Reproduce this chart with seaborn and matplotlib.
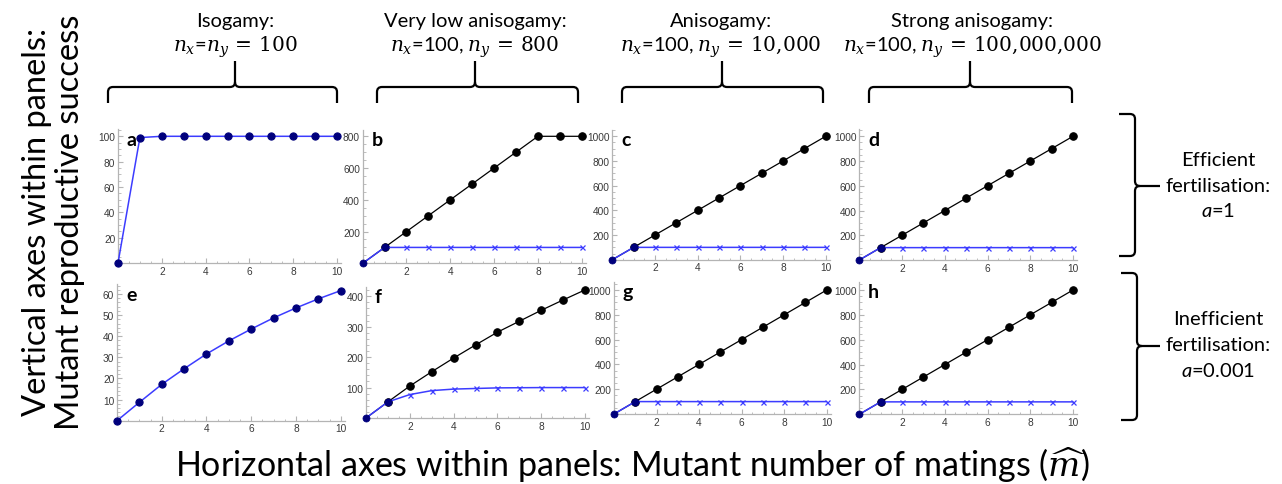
import matplotlib
matplotlib.use("Agg")
import matplotlib.pyplot as plt
import seaborn as sns
import pandas as pd
from matplotlib.path import Path
from matplotlib.patches import PathPatch
from matplotlib.ticker import MultipleLocator, FixedLocator

# ---------------- data ----------------
matings = [0, 1, 2, 3, 4, 5, 6, 7, 8, 9, 10]
x_ticks = [2, 4, 6, 8, 10]

a_blue = [0, 99, 100, 100, 100, 100, 100, 100, 100, 100, 100]
e_blue = [0, 8.7, 17.2, 24.6, 31.6, 37.8, 43.4, 48.7, 53.4, 57.7, 61.6]

b_black = [0, 100, 200, 300, 400, 500, 600, 700, 800, 800, 800]
b_blue = [0, 100, 100, 100, 100, 100, 100, 100, 100, 100, 100]
c_black = [0, 100, 200, 300, 400, 500, 600, 700, 800, 900, 1000]
c_blue = [0, 100, 100, 100, 100, 100, 100, 100, 100, 100, 100]
d_black = [0, 100, 200, 300, 400, 500, 600, 700, 800, 900, 1000]
d_blue = [0, 100, 100, 100, 100, 100, 100, 100, 100, 100, 100]
f_black = [0, 53, 105, 152, 197, 240, 282, 318, 354, 388, 421]
f_blue = [0, 53, 77, 90, 95, 97, 99, 99.5, 100, 100, 100]
g_black = [0, 100, 200, 300, 400, 500, 600, 700, 800, 900, 1000]
g_blue = [0, 100, 100, 100, 100, 100, 100, 100, 100, 100, 100]
h_black = [0, 100, 200, 300, 400, 500, 600, 700, 800, 900, 1000]
h_blue = [0, 100, 100, 100, 100, 100, 100, 100, 100, 100, 100]

a_yticks = [20, 40, 60, 80, 100]
b_yticks = [200, 400, 600, 800]
c_yticks = [200, 400, 600, 800, 1000]
e_yticks = [10, 20, 30, 40, 50, 60]
f_yticks = [100, 200, 300, 400]

col_titles = ["Isogamy:", "Very low anisogamy:", "Anisogamy:", "Strong anisogamy:"]
col_params = [r"$n_x$=$n_y\,=\,100$",
              r"$n_x$=100, $n_y\,=\,800$",
              r"$n_x$=100, $n_y\,=\,10{,}000$",
              r"$n_x$=100, $n_y\,=\,100{,}000{,}000$"]
row_titles = [["Efficient", "fertilisation:", r"$a$=1"],
              ["Inefficient", "fertilisation:", r"$a$=0.001"]]
ylabel_lines = ["Vertical axes within panels:", "Mutant reproductive success"]
xlabel = r"Horizontal axes within panels: Mutant number of matings ($\widehat{m}$)"

# ---------------- style ----------------
sns.set_style("white")
plt.rcParams["font.family"] = ["Lato", "DejaVu Sans"]
plt.rcParams["mathtext.fontset"] = "custom"
plt.rcParams["mathtext.rm"] = "Lato"
plt.rcParams["mathtext.it"] = "Lato:italic"
plt.rcParams["mathtext.bf"] = "Lato:bold"

W, H = 1282, 485
fig = plt.figure(figsize=(W / 100, H / 100), dpi=100)
fig.patch.set_facecolor("white")

BLUE = "#3c3cff"
NAVY = "#00007c"
AXC = "#b4b4b4"
TICKC = "#3a3a3a"


def make_ax(px0, px10, py0, pyt, tval, ytop, xmax=10.2):
    wpx = (px10 - px0) / 10 * xmax
    hpx = (py0 - pyt) / tval * ytop
    ax = fig.add_axes([px0 / W, 1 - py0 / H, wpx / W, hpx / H])
    ax.set_xlim(0, xmax)
    ax.set_ylim(0, ytop)
    ax.set_facecolor("none")
    for s in ["top", "right"]:
        ax.spines[s].set_visible(False)
    for s in ["left", "bottom"]:
        ax.spines[s].set_color(AXC)
        ax.spines[s].set_linewidth(0.9)
    ax.tick_params(which="both", direction="in", color=AXC, labelcolor=TICKC,
                   labelsize=7.3, pad=2, left=True, bottom=True)
    ax.tick_params(which="major", length=3.5, width=0.8)
    ax.tick_params(which="minor", length=1.8, width=0.6)
    ax.xaxis.set_major_locator(FixedLocator(x_ticks))
    ax.xaxis.set_minor_locator(MultipleLocator(0.5))
    return ax


def finish_ticks(ax, yticks, yminor):
    ax.yaxis.set_major_locator(FixedLocator(yticks))
    ax.yaxis.set_minor_locator(MultipleLocator(yminor))
    ax.set_xlabel("")
    ax.set_ylabel("")
    for lab in ax.get_xticklabels() + ax.get_yticklabels():
        lab.set_fontfamily("Liberation Sans")
        lab.set_fontsize(7.3)
        lab.set_color(TICKC)


def letter(ax, s):
    ax.text(0.04, 0.99, s, transform=ax.transAxes, ha="left", va="top",
            fontsize=14, fontweight="bold", color="black")


def single_panel(ax, vals):
    df = pd.DataFrame({"m": matings, "v": vals})
    sns.lineplot(data=df, x="m", y="v", ax=ax, color=BLUE, lw=1.1, sort=False,
                 estimator=None, marker="o", markersize=5.2, markerfacecolor=NAVY,
                 markeredgecolor=NAVY, clip_on=False, zorder=3)


def double_panel(ax, black, blue):
    dfk = pd.DataFrame({"m": matings, "v": black})
    dfb = pd.DataFrame({"m": matings, "v": blue})
    sns.lineplot(data=dfk, x="m", y="v", ax=ax, color="black", lw=0.9, sort=False,
                 estimator=None, marker="o", markersize=5.4, markerfacecolor="black",
                 markeredgecolor="black", markevery=list(range(1, 11)),
                 clip_on=False, zorder=3)
    sns.lineplot(data=dfb, x="m", y="v", ax=ax, color=BLUE, lw=1.1, sort=False,
                 estimator=None, marker="x", markersize=3.6, markeredgewidth=0.9,
                 markeredgecolor=BLUE, markevery=list(range(2, 11)),
                 clip_on=False, zorder=4)
    sns.scatterplot(data=dfb.iloc[:2], x="m", y="v", ax=ax, color=NAVY, s=26,
                    edgecolor=NAVY, linewidth=0.5, clip_on=False, zorder=5)


# top row
ax_a = make_ax(118, 337, 264, 137.3, 100, 105.5)
single_panel(ax_a, a_blue); finish_ticks(ax_a, a_yticks, 5); letter(ax_a, "a")

ax_b = make_ax(362.7, 581.7, 264.3, 137.3, 800, 842)
double_panel(ax_b, b_black, b_blue); finish_ticks(ax_b, b_yticks, 50); letter(ax_b, "b")

ax_c = make_ax(612.3, 825.7, 260.7, 137.3, 1000, 1055)
double_panel(ax_c, c_black, c_blue); finish_ticks(ax_c, c_yticks, 50); letter(ax_c, "c")

ax_d = make_ax(859.3, 1073, 261, 137.3, 1000, 1055)
double_panel(ax_d, d_black, d_blue); finish_ticks(ax_d, c_yticks, 50); letter(ax_d, "d")

# bottom row
ax_e = make_ax(117, 340.7, 421.7, 295, 60, 64.5)
single_panel(ax_e, e_blue); finish_ticks(ax_e, e_yticks, 2); letter(ax_e, "e")

ax_f = make_ax(366, 585, 419, 297.3, 400, 432)
double_panel(ax_f, f_black, f_blue); finish_ticks(ax_f, f_yticks, 20); letter(ax_f, "f")

ax_g = make_ax(614, 826.7, 415, 291, 1000, 1065)
double_panel(ax_g, g_black, g_blue); finish_ticks(ax_g, c_yticks, 50); letter(ax_g, "g")

ax_h = make_ax(859.3, 1073, 415.3, 291, 1000, 1065)
double_panel(ax_h, h_black, h_blue); finish_ticks(ax_h, c_yticks, 50); letter(ax_h, "h")

# ---------------- overlay: braces and labels ----------------
ov = fig.add_axes([0, 0, 1, 1], zorder=-1)
ov.set_xlim(0, W)
ov.set_ylim(H, 0)
ov.axis("off")


def hbrace(xl, xr, xt, ybar, yend, ytip, r=5):
    verts = [(xl, yend), (xl, ybar + r), (xl, ybar), (xl + r, ybar),
             (xt - r, ybar), (xt, ybar), (xt, ybar - r), (xt, ytip),
             (xt, ybar - r), (xt, ybar), (xt + r, ybar),
             (xr - r, ybar), (xr, ybar), (xr, ybar + r), (xr, yend)]
    codes = [Path.MOVETO, Path.LINETO, Path.CURVE3, Path.CURVE3,
             Path.LINETO, Path.CURVE3, Path.CURVE3, Path.LINETO,
             Path.MOVETO, Path.CURVE3, Path.CURVE3,
             Path.LINETO, Path.CURVE3, Path.CURVE3, Path.LINETO]
    ov.add_patch(PathPatch(Path(verts, codes), fill=False, lw=1.6,
                           edgecolor="black", capstyle="butt"))


def vbrace(yt, yb, ytip, xbar, xend, xtip, r=5):
    verts = [(xend, yt), (xbar - r, yt), (xbar, yt), (xbar, yt + r),
             (xbar, ytip - r), (xbar, ytip), (xbar + r, ytip), (xtip, ytip),
             (xbar + r, ytip), (xbar, ytip), (xbar, ytip + r),
             (xbar, yb - r), (xbar, yb), (xbar - r, yb), (xend, yb)]
    codes = [Path.MOVETO, Path.LINETO, Path.CURVE3, Path.CURVE3,
             Path.LINETO, Path.CURVE3, Path.CURVE3, Path.LINETO,
             Path.MOVETO, Path.CURVE3, Path.CURVE3,
             Path.LINETO, Path.CURVE3, Path.CURVE3, Path.LINETO]
    ov.add_patch(PathPatch(Path(verts, codes), fill=False, lw=1.6,
                           edgecolor="black", capstyle="butt"))


brace_x = [(108, 337, 235), (377, 578, 475), (622, 823, 722), (869, 1072, 970)]
title_x = [235, 475, 721, 972]
for (xl, xr, xt), tx, t1, t2 in zip(brace_x, title_x, col_titles, col_params):
    hbrace(xl, xr, xt, 88, 104, 62)
    ov.text(tx, 22, t1, ha="center", va="center", fontsize=14.5, color="black")
    ov.text(tx, 47, t2, ha="center", va="center", fontsize=14.5, color="black",
            math_fontfamily="dejavuserif")

vbrace(115, 257, 187, 1135, 1119, 1160)
vbrace(274, 421, 347, 1137, 1121, 1160)
for ys, lines in zip([(161, 187, 211), (320, 346, 371)], row_titles):
    for y, s in zip(ys, lines):
        ov.text(1218, y, s, ha="center", va="center", fontsize=14.5, color="black")

ov.text(37, 222, ylabel_lines[0], rotation=90, ha="center", va="center",
        fontsize=23.5, color="black")
ov.text(70, 222, ylabel_lines[1], rotation=90, ha="center", va="center",
        fontsize=23.5, color="black")
ov.text(632, 465, xlabel, ha="center", va="center", fontsize=24.5, color="black",
        math_fontfamily="dejavuserif")

fig.savefig("out.png", dpi=100, facecolor="white")
